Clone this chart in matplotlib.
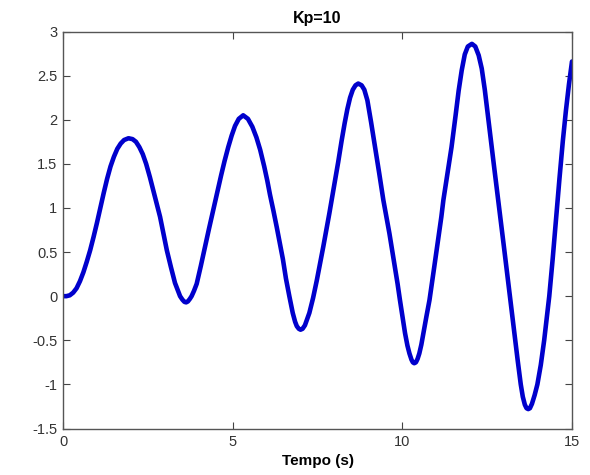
import matplotlib
matplotlib.use("Agg")
import matplotlib.pyplot as plt

# Values (time in s, response)
tempo = [0.00, 0.10, 0.20, 0.30, 0.40, 0.50, 0.60, 0.70, 0.80, 0.90,
         1.00, 1.10, 1.20, 1.30, 1.40, 1.50, 1.60, 1.70, 1.80, 1.93,
         2.05, 2.15, 2.25, 2.35, 2.45, 2.56, 2.66, 2.76, 2.86, 2.96,
         3.06, 3.18, 3.30, 3.40, 3.45, 3.52, 3.58, 3.63, 3.68, 3.74,
         3.79, 3.86, 3.94, 4.06, 4.18, 4.30, 4.43, 4.55, 4.66, 4.76,
         4.87, 4.97, 5.07, 5.18, 5.31, 5.45, 5.58, 5.70, 5.81, 5.93,
         6.02, 6.10, 6.20, 6.30, 6.40, 6.48, 6.57, 6.67, 6.77, 6.84,
         6.89, 6.95, 7.00, 7.06, 7.13, 7.26, 7.37, 7.48, 7.58, 7.67,
         7.76, 7.85, 7.94, 8.02, 8.11, 8.21, 8.30, 8.38, 8.46, 8.54,
         8.62, 8.70, 8.80, 8.88, 8.97, 9.08, 9.20, 9.32, 9.44, 9.53,
         9.62, 9.70, 9.78, 9.86, 9.93, 10.00, 10.08, 10.15, 10.21, 10.27,
         10.31, 10.35, 10.40, 10.45, 10.50, 10.56, 10.62, 10.71, 10.80, 10.87,
         10.94, 11.01, 11.08, 11.15, 11.21, 11.33, 11.45, 11.57, 11.66, 11.75,
         11.84, 11.93, 12.05, 12.15, 12.25, 12.34, 12.43, 12.52, 12.60, 12.70,
         12.80, 12.90, 13.00, 13.10, 13.20, 13.30, 13.40, 13.49, 13.55, 13.61,
         13.66, 13.71, 13.76, 13.82, 13.90, 13.98, 14.08, 14.18, 14.33, 14.43,
         14.53, 14.63, 14.73, 14.82, 14.91, 15.00]
resposta = [0.00, 0.00, 0.01, 0.04, 0.09, 0.17, 0.27, 0.39, 0.52, 0.67,
            0.83, 1.00, 1.17, 1.33, 1.47, 1.58, 1.67, 1.73, 1.77, 1.79,
            1.78, 1.75, 1.69, 1.61, 1.50, 1.35, 1.20, 1.05, 0.90, 0.71,
            0.52, 0.33, 0.15, 0.05, 0.00, -0.04, -0.065, -0.07, -0.06, -0.03,
            0.00, 0.06, 0.14, 0.34, 0.55, 0.76, 0.98, 1.18, 1.37, 1.53,
            1.69, 1.82, 1.93, 2.01, 2.05, 2.01, 1.92, 1.80, 1.66, 1.47,
            1.31, 1.15, 0.97, 0.78, 0.58, 0.42, 0.20, 0.00, -0.19, -0.29,
            -0.34, -0.37, -0.38, -0.37, -0.33, -0.19, -0.02, 0.18, 0.38, 0.56,
            0.75, 0.94, 1.14, 1.32, 1.52, 1.76, 1.96, 2.12, 2.25, 2.34,
            2.39, 2.41, 2.39, 2.34, 2.22, 1.97, 1.68, 1.39, 1.09, 0.90,
            0.71, 0.52, 0.33, 0.14, -0.045, -0.22, -0.42, -0.56, -0.65, -0.72,
            -0.75, -0.76, -0.75, -0.71, -0.65, -0.55, -0.42, -0.23, -0.045, 0.14,
            0.33, 0.52, 0.71, 0.90, 1.09, 1.39, 1.69, 2.05, 2.33, 2.56,
            2.74, 2.83, 2.86, 2.83, 2.73, 2.58, 2.34, 2.05, 1.80, 1.48,
            1.17, 0.85, 0.54, 0.22, -0.10, -0.42, -0.73, -1.00, -1.14, -1.23,
            -1.27, -1.28, -1.27, -1.22, -1.12, -1.00, -0.78, -0.50, 0.00, 0.42,
            0.88, 1.33, 1.76, 2.10, 2.40, 2.66]

x_ticks = [0, 5, 10, 15]
y_ticks = [-1.5, -1, -0.5, 0, 0.5, 1, 1.5, 2, 2.5, 3]
y_tick_labels = ["-1.5", "-1", "-0.5", "0", "0.5", "1", "1.5", "2", "2.5", "3"]
title_text = "Kp=10"
xlabel_text = "Tempo (s)"

plt.rcParams['font.family'] = ['Liberation Sans', 'DejaVu Sans']

fig = plt.figure(figsize=(5.9, 4.75), dpi=100)
fig.patch.set_facecolor('white')
ax = fig.add_axes([63/590, 1 - 428.5/475, (572 - 63)/590, (428.5 - 31.5)/475])

ax.plot(tempo, resposta, color='#0000CC', linewidth=3.3, solid_capstyle='round',
        solid_joinstyle='round')

ax.set_xlim(0, 15)
ax.set_ylim(-1.5, 3)
ax.set_xticks(x_ticks)
ax.set_xticklabels([str(v) for v in x_ticks])
ax.set_yticks(y_ticks)
ax.set_yticklabels(y_tick_labels)

ax.tick_params(direction='in', length=5, width=0.8, colors='#444444',
               labelsize=10.5, top=True, right=True, labelcolor='#333333')
ax.tick_params(axis='x', pad=5)
ax.tick_params(axis='y', pad=4)
for sp in ax.spines.values():
    sp.set_color('#555555')
    sp.set_linewidth(1.0)

ax.set_title(title_text, fontsize=11.5, fontweight='bold', pad=6)
ax.set_xlabel(xlabel_text, fontsize=11, fontweight='bold', labelpad=3)

fig.savefig('out.png', dpi=100, facecolor='white')
